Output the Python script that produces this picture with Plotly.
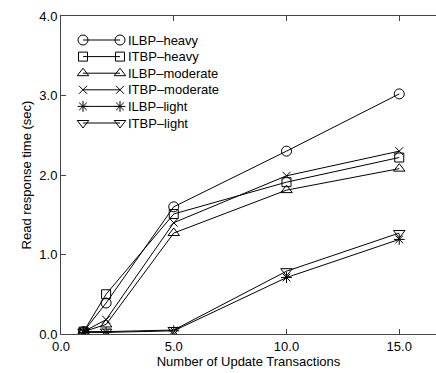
import plotly.graph_objects as go

x_vals = [1, 2, 5, 10, 15]
series_names = ["ILBP\u2013heavy", "ITBP\u2013heavy", "ILBP\u2013moderate",
                "ITBP\u2013moderate", "ILBP\u2013light", "ITBP\u2013light"]
ilbp_heavy = [0.03, 0.39, 1.60, 2.30, 3.02]
itbp_heavy = [0.03, 0.50, 1.51, 1.91, 2.22]
ilbp_moderate = [0.03, 0.12, 1.27, 1.81, 2.08]
itbp_moderate = [0.03, 0.18, 1.40, 1.99, 2.30]
ilbp_light = [0.02, 0.02, 0.04, 0.71, 1.19]
itbp_light = [0.03, 0.03, 0.05, 0.79, 1.27]
all_series = [ilbp_heavy, itbp_heavy, ilbp_moderate, itbp_moderate, ilbp_light, itbp_light]
symbols = ["circle-open", "square-open", "triangle-up-open", "x-thin-open",
           "asterisk-open", "triangle-down-open"]
sizes = [10, 9, 10, 8, 9, 10]

x_ticks = [0, 5, 10, 15]
y_ticks = [0, 1, 2, 3, 4]

font_family = "Liberation Sans, Arial, Helvetica, sans-serif"
W, H = 436, 373
ML, MR, MT, MB = 61, 0, 16, 39

fig = go.Figure()
for name, ys, sym, sz in zip(series_names, all_series, symbols, sizes):
    fig.add_trace(go.Scatter(
        x=x_vals, y=ys, mode="lines+markers", name=name, showlegend=False,
        line=dict(color="black", width=1),
        marker=dict(symbol=sym, size=sz, color="black",
                    line=dict(color="black", width=1)),
    ))

# custom gnuplot-style legend in pixel-like overlay coordinates
leg_x0, leg_x1, leg_text_x = 83, 120, 126
leg_y0, leg_dy = 40, 16.6
for i, (name, sym, sz) in enumerate(zip(series_names, symbols, sizes)):
    yy = H - (leg_y0 + i * leg_dy)
    fig.add_trace(go.Scatter(
        x=[leg_x0, leg_x1], y=[yy, yy], xaxis="x2", yaxis="y2",
        mode="lines+markers", showlegend=False, hoverinfo="skip",
        line=dict(color="black", width=1),
        marker=dict(symbol=sym, size=sz, color="black",
                    line=dict(color="black", width=1)),
    ))
    fig.add_annotation(x=leg_text_x, y=yy, xref="x2", yref="y2", text=name,
                       showarrow=False, xanchor="left", yanchor="middle",
                       font=dict(size=13, color="black", family=font_family))

axis_common = dict(showgrid=False, zeroline=False, showline=True,
                   linecolor="#444", linewidth=1, ticks="inside", ticklen=5,
                   tickcolor="#444", tickfont=dict(size=13, color="black", family=font_family))

fig.update_layout(
    width=W, height=H,
    margin=dict(l=ML, r=MR, t=MT, b=MB),
    plot_bgcolor="white", paper_bgcolor="white",
    xaxis=dict(range=[0, (W - ML) / 22.55], tickvals=x_ticks,
               ticktext=[f"{v:.1f}" for v in x_ticks], mirror="ticks",
               title=dict(text="Number of Update Transactions", standoff=2,
                          font=dict(size=13, color="black", family=font_family)),
               **axis_common),
    yaxis=dict(range=[0, 4], tickvals=y_ticks,
               ticktext=[f"{v:.1f}" for v in y_ticks],
               title=dict(text="Read response time (sec)", standoff=4,
                          font=dict(size=13, color="black", family=font_family)),
               **axis_common),
    xaxis2=dict(domain=[0, 1], range=[ML, W], overlaying="x", visible=False, anchor="y2"),
    yaxis2=dict(domain=[0, 1], range=[MB, H - MT], overlaying="y", visible=False, anchor="x2"),
)
fig.write_html("out.html")
